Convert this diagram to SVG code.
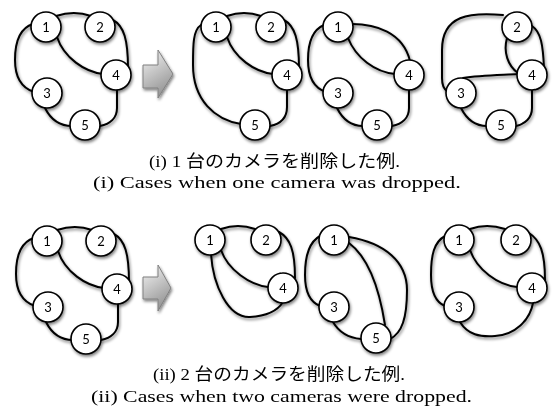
<svg xmlns="http://www.w3.org/2000/svg" width="555" height="407" viewBox="0 0 555 407">
<defs>
<filter id="sh" x="-10%" y="-10%" width="125%" height="125%">
<feGaussianBlur in="SourceAlpha" stdDeviation="1.6"/>
<feOffset dx="1" dy="1.5"/>
<feComponentTransfer><feFuncA type="linear" slope="0.5"/></feComponentTransfer>
<feMerge><feMergeNode/><feMergeNode in="SourceGraphic"/></feMerge>
</filter>
<linearGradient id="ag" x1="0" y1="0" x2="0.4" y2="1">
<stop offset="0" stop-color="#f6f6f6"/>
<stop offset="1" stop-color="#979797"/>
</linearGradient>
</defs>
<style>
.e{fill:none;stroke:#000;stroke-width:2;stroke-linecap:round}
.n circle{fill:#fff;stroke:#000;stroke-width:1.6}
.n text{font-family:Lato,"Open Sans",sans-serif;font-size:13px;text-anchor:middle;fill:#000}
.arr{fill:url(#ag);stroke:#808080;stroke-width:1}
.cap{font-family:"Liberation Serif","Noto Sans CJK JP",serif;font-size:17px;fill:#000}
</style>
<rect width="555" height="407" fill="#fff"/>

<g id="connectors" filter="url(#sh)">
<!-- panel A -->
<path class="e" d="M56,16 C68,12 80,12 91,16"/>
<path class="e" d="M113,20 C124,26 128,40 128,68"/>
<path class="e" d="M57,37 C64,58 85,72 103,74"/>
<path class="e" d="M33,24 C20,28 15,40 15,60 C15,78 22,88 34,92"/>
<path class="e" d="M45,108 C52,122 62,126 72,126"/>
<path class="e" d="M117,90 L117,108 C117,118 110,124 100,126"/>
<!-- panel B -->
<path class="e" d="M227,16 C238,12 250,12 261,16"/>
<path class="e" d="M284,20 C295,26 299,40 299,68"/>
<path class="e" d="M227,37 C234,58 255,72 273,74"/>
<path class="e" d="M201,25 C193,30 193,45 193,65 C193,100 215,120 241,124"/>
<path class="e" d="M287,90 L287,107 C287,118 280,124 270,126"/>
<!-- panel C -->
<path class="e" d="M352,24 C375,24 403,32 410,61"/>
<path class="e" d="M348,38 C356,58 375,72 395,74"/>
<path class="e" d="M324,25 C312,30 308,42 308,60 C308,78 314,88 326,92"/>
<path class="e" d="M337,108 C344,122 354,126 363,126"/>
<path class="e" d="M409,90 L409,108 C409,118 402,124 392,126"/>
<!-- panel D -->
<path class="e" d="M503,15 C470,12 442,15 442,50 L442,78 C442,86 444,89 447,91"/>
<path class="e" d="M507,38 C503,52 508,66 518,73"/>
<path class="e" d="M532,26 C541,32 543,45 544,68"/>
<path class="e" d="M463,78 C480,75 500,75 518,74"/>
<path class="e" d="M461,108 C468,122 478,126 487,126"/>
<path class="e" d="M532,90 L532,108 C532,118 525,124 516,126"/>
<!-- panel E -->
<g transform="translate(1,214)">
<path class="e" d="M56,16 C68,12 80,12 91,16"/>
<path class="e" d="M113,20 C124,26 128,40 128,68"/>
<path class="e" d="M57,37 C64,58 85,72 103,74"/>
<path class="e" d="M33,24 C20,28 15,40 15,60 C15,78 22,88 34,92"/>
<path class="e" d="M45,108 C52,122 62,126 72,126"/>
<path class="e" d="M117,90 L117,108 C117,118 110,124 100,126"/>
</g>
<!-- panel F -->
<path class="e" d="M221,229 C232,225 244,225 255,229"/>
<path class="e" d="M279,232 C290,238 295,250 295,278"/>
<path class="e" d="M221,250 C228,270 250,285 268,287"/>
<path class="e" d="M211,254 C213,285 228,318 250,317 C268,316 278,310 283,302"/>
<!-- panel G -->
<path class="e" d="M320,236 C309,242 305,255 305,275 C305,292 310,302 320,306"/>
<path class="e" d="M333,322 C340,334 350,338 361,339"/>
<path class="e" d="M349,243 C365,255 378,280 385,325"/>
<path class="e" d="M349,237 C385,243 407,262 407,290 C407,318 402,333 390,339"/>
<!-- panel H -->
<path class="e" d="M470,229 C481,225 493,225 505,229"/>
<path class="e" d="M529,233 C540,240 545,252 545,280"/>
<path class="e" d="M470,250 C477,270 498,285 517,287"/>
<path class="e" d="M445,236 C434,242 431,255 431,275 C431,292 435,302 445,306"/>
<path class="e" d="M460,322 C468,335 480,337 495,336 C515,335 530,320 533,303"/>
</g>

<g id="nodes" filter="url(#sh)">
<!-- panel A -->
<g id="a1" class="n"><circle cx="46" cy="27" r="15"/><text x="46" y="31.5">1</text></g>
<g id="a2" class="n"><circle cx="100" cy="27" r="15"/><text x="100" y="31.5">2</text></g>
<g id="a4" class="n"><circle cx="116" cy="75" r="15"/><text x="116" y="79.5">4</text></g>
<g id="a3" class="n"><circle cx="47" cy="93" r="15"/><text x="47" y="97.5">3</text></g>
<g id="a5" class="n"><circle cx="85" cy="125" r="15"/><text x="85" y="129.5">5</text></g>
<!-- panel B -->
<g id="b1" class="n"><circle cx="216" cy="27" r="15"/><text x="216" y="31.5">1</text></g>
<g id="b2" class="n"><circle cx="271" cy="27" r="15"/><text x="271" y="31.5">2</text></g>
<g id="b4" class="n"><circle cx="287" cy="75" r="15"/><text x="287" y="79.5">4</text></g>
<g id="b5" class="n"><circle cx="255" cy="125" r="15"/><text x="255" y="129.5">5</text></g>
<!-- panel C -->
<g id="c1" class="n"><circle cx="338" cy="27" r="15"/><text x="338" y="31.5">1</text></g>
<g id="c3" class="n"><circle cx="338" cy="93" r="15"/><text x="338" y="97.5">3</text></g>
<g id="c4" class="n"><circle cx="409" cy="75" r="15"/><text x="409" y="79.5">4</text></g>
<g id="c5" class="n"><circle cx="377" cy="125" r="15"/><text x="377" y="129.5">5</text></g>
<!-- panel D -->
<g id="d2" class="n"><circle cx="517" cy="27" r="15"/><text x="517" y="31.5">2</text></g>
<g id="d4" class="n"><circle cx="532" cy="75" r="15"/><text x="532" y="79.5">4</text></g>
<g id="d3" class="n"><circle cx="461" cy="93" r="15"/><text x="461" y="97.5">3</text></g>
<g id="d5" class="n"><circle cx="501" cy="125" r="15"/><text x="501" y="129.5">5</text></g>
<!-- panel E -->
<g id="e1" class="n"><circle cx="47" cy="241" r="15"/><text x="47" y="245.5">1</text></g>
<g id="e2" class="n"><circle cx="101" cy="241" r="15"/><text x="101" y="245.5">2</text></g>
<g id="e4" class="n"><circle cx="117" cy="289" r="15"/><text x="117" y="293.5">4</text></g>
<g id="e3" class="n"><circle cx="48" cy="307" r="15"/><text x="48" y="311.5">3</text></g>
<g id="e5" class="n"><circle cx="86" cy="339" r="15"/><text x="86" y="343.5">5</text></g>
<!-- panel F -->
<g id="f1" class="n"><circle cx="210" cy="240" r="15"/><text x="210" y="244.5">1</text></g>
<g id="f2" class="n"><circle cx="266" cy="240" r="15"/><text x="266" y="244.5">2</text></g>
<g id="f4" class="n"><circle cx="283" cy="288" r="15"/><text x="283" y="292.5">4</text></g>
<!-- panel G -->
<g id="g1" class="n"><circle cx="334" cy="240" r="15"/><text x="334" y="244.5">1</text></g>
<g id="g3" class="n"><circle cx="334" cy="307" r="15"/><text x="334" y="311.5">3</text></g>
<g id="g5" class="n"><circle cx="376" cy="338" r="15"/><text x="376" y="342.5">5</text></g>
<!-- panel H -->
<g id="h1" class="n"><circle cx="459" cy="240" r="15"/><text x="459" y="244.5">1</text></g>
<g id="h2" class="n"><circle cx="516" cy="240" r="15"/><text x="516" y="244.5">2</text></g>
<g id="h4" class="n"><circle cx="532" cy="288" r="15"/><text x="532" y="292.5">4</text></g>
<g id="h3" class="n"><circle cx="459" cy="307" r="15"/><text x="459" y="311.5">3</text></g>
</g>

<g id="arrow1" filter="url(#sh)"><polygon class="arr" points="143,65 158,65 158,50 173,74 158,98 158,88 143,88"/></g>
<g id="arrow2" filter="url(#sh)"><polygon class="arr" points="143,277 158,277 158,265 171,288 158,311 158,299 143,299"/></g>

<g id="captions">
<text class="cap" x="149" y="166.5" textLength="251" lengthAdjust="spacingAndGlyphs">(i) 1 台のカメラを削除した例.</text>
<text class="cap" x="93" y="188" textLength="368" lengthAdjust="spacingAndGlyphs">(i) Cases when one camera was dropped.</text>
<text class="cap" x="153" y="380" textLength="252" lengthAdjust="spacingAndGlyphs">(ii) 2 台のカメラを削除した例.</text>
<text class="cap" x="91" y="401.5" textLength="381" lengthAdjust="spacingAndGlyphs">(ii) Cases when two cameras were dropped.</text>
</g>
</svg>
